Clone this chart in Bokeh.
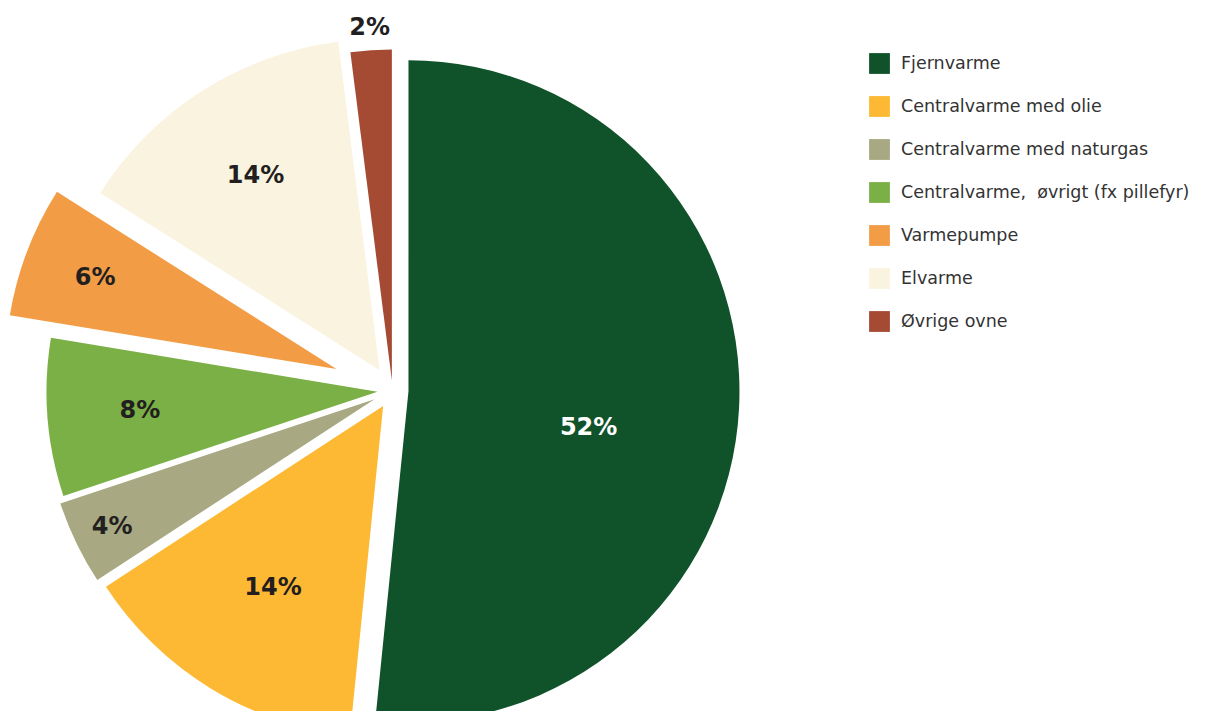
import math
from bokeh.plotting import figure
from bokeh.models import Range1d, Legend, LegendItem, ColumnDataSource
from bokeh.embed import file_html
from bokeh.resources import INLINE
from bokeh.core.properties import value

# ---- data ----
categories = ["Fjernvarme", "Centralvarme med olie", "Centralvarme med naturgas",
              "Centralvarme,  øvrigt (fx pillefyr)", "Varmepumpe", "Elvarme", "Øvrige ovne"]
shares = [51.6, 14.2, 4.1, 7.7, 6.4, 14.0, 2.0]
labels = ["52%", "14%", "4%", "8%", "6%", "14%", "2%"]

# ---- style ----
colors = ["#10532A", "#FDB933", "#A8A882", "#7AB046", "#F29D46", "#FAF3E0", "#A54A33"]
label_colors = ["#FFFFFF", "#231F20", "#231F20", "#231F20", "#231F20", "#231F20", "#231F20"]
explode = [16, 18, 20, 15, 60, 24, 10]
label_frac = [0.555, 0.64, 0.88, 0.72, 0.78, 0.70, 1.07]
label_shift = [8.4, 0, 0, 0, 0, 0, 0]

W, H = 1205, 711
TOP = 727
CX, CY = 392, TOP - 390
R = 331

total = sum(shares)
xs, ys, starts, ends, lx, ly = [], [], [], [], [], []
acc = 0.0
for i, s in enumerate(shares):
    t1 = acc / total * 360.0
    acc += s
    t2 = acc / total * 360.0
    tm = (t1 + t2) / 2.0
    ax = CX + explode[i] * math.sin(math.radians(tm))
    ay = CY + explode[i] * math.cos(math.radians(tm))
    xs.append(ax)
    ys.append(ay)
    starts.append(math.radians(90 - t1))
    ends.append(math.radians(90 - t2))
    tl = tm + label_shift[i]
    lx.append(ax + label_frac[i] * R * math.sin(math.radians(tl)))
    ly.append(ay + label_frac[i] * R * math.cos(math.radians(tl)))

src = ColumnDataSource(dict(x=xs, y=ys, start=starts, end=ends, color=colors,
                            cat=categories))
lsrc = ColumnDataSource(dict(x=lx, y=ly, text=labels, color=label_colors))

p = figure(width=W, height=H, output_backend="svg", toolbar_location=None,
           x_range=Range1d(0, W), y_range=Range1d(TOP - H, TOP),
           min_border=0, x_axis_location=None, y_axis_location=None)
p.grid.visible = False
p.outline_line_color = None
p.background_fill_color = "white"
p.border_fill_color = "white"

wr = p.wedge(x="x", y="y", radius=R, start_angle="start", end_angle="end",
             direction="clock", fill_color="color", line_color=None, source=src)

p.text(x="x", y="y", text="text", text_color="color", source=lsrc,
       text_align="center", text_baseline="middle",
       text_font=value("DejaVu Sans"), text_font_style="bold", text_font_size="24px")

items = [LegendItem(label=categories[i], renderers=[wr], index=i) for i in range(len(categories))]
legend = Legend(items=items, location=(866, H - 334),
                glyph_width=26, glyph_height=26, label_height=26, spacing=17,
                padding=0, margin=0, label_standoff=9,
                label_text_font="DejaVu Sans", label_text_font_size="17.5px",
                label_text_color="#333333", border_line_alpha=0,
                background_fill_alpha=0)
p.add_layout(legend)

open("out.html", "w").write(file_html(p, INLINE))
